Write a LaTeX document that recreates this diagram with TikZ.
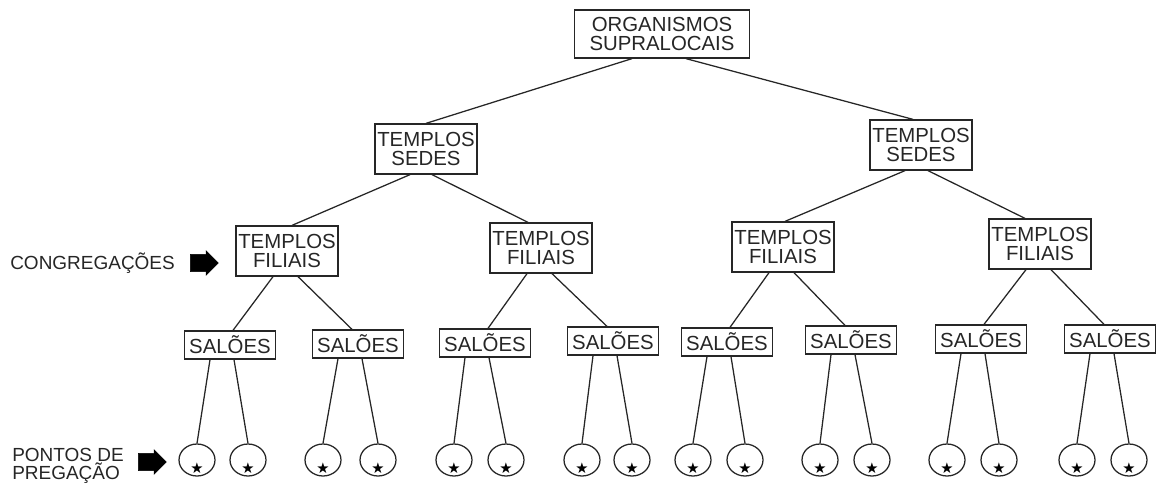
\documentclass[tikz,border=0pt]{standalone}
\usepackage{fontspec}
\setmainfont{Liberation Sans}
\newfontfamily\symfont{DejaVu Sans}
\usetikzlibrary{positioning, shapes.geometric, shapes.arrows}

\begin{document}
\begin{tikzpicture}[
		x=0.25mm, y=-0.25mm,
		every node/.style={text=black!85},
		tbox/.style={draw=black!85, line width=0.9pt, align=center, inner sep=0pt, font=\fontsize{14.5}{14}\selectfont},
		orgbox/.style={tbox, minimum width=43.75mm, minimum height=12mm},
		templo/.style={tbox, minimum width=25.5mm, minimum height=12.5mm},
		salao/.style={tbox, minimum width=22.75mm, minimum height=7mm},
		ponto/.style={draw=black!85, line width=0.9pt, ellipse, minimum width=9mm, minimum height=8mm, inner sep=0pt,
			path picture={\node[font=\symfont\fontsize{10.5}{10.5}\selectfont, inner sep=0pt, text=black] at ([yshift=-2.1mm]path picture bounding box.center) {★};}},
		sidelabel/.style={align=left, inner sep=0pt, font=\fontsize{13.5}{13}\selectfont},
		bigarrow/.style={single arrow, fill=black, draw=black, minimum height=7mm, inner sep=2.1mm, single arrow head extend=0.9mm},
		tline/.style={draw=black!85, line width=0.9pt},
	]
	\useasboundingbox (0,0) rectangle (1156,488);

	\node[orgbox] (org) at (662,34) {ORGANISMOS\\SUPRALOCAIS};

	\node[templo] (sl) at (426,149) {TEMPLOS\\SEDES};
	\node[templo] (sr) at (921,145) {TEMPLOS\\SEDES};

	\node[templo] (f1) at (287,251) {TEMPLOS\\FILIAIS};
	\node[templo] (f2) at (541,248) {TEMPLOS\\FILIAIS};
	\node[templo] (f3) at (783,247) {TEMPLOS\\FILIAIS};
	\node[templo] (f4) at (1040,244) {TEMPLOS\\FILIAIS};

	\node[salao] (s1) at (230,345) {SALÕES};
	\node[salao] (s2) at (358,344) {SALÕES};
	\node[salao] (s3) at (485,343) {SALÕES};
	\node[salao] (s4) at (613,341) {SALÕES};
	\node[salao] (s5) at (727,342) {SALÕES};
	\node[salao] (s6) at (851,340) {SALÕES};
	\node[salao] (s7) at (981,339) {SALÕES};
	\node[salao] (s8) at (1110,339) {SALÕES};

	% pontos de pregacao, two under each salao
	\foreach \i/\x in {1/197, 2/248, 3/323, 4/378, 5/454, 6/506, 7/582, 8/632,
			9/693, 10/745, 11/820, 12/872, 13/947, 14/999, 15/1077, 16/1129}
		\node[ponto] (p\i) at (\x,460) {};

	% side labels
	\node[sidelabel, anchor=west] (cong) at (10,263) {CONGREGAÇÕES};
	\node[bigarrow] (ca) at (200,263) {};
	\node[sidelabel, anchor=west] (pont) at (12,466) {PONTOS DE\\PREGAÇÃO};
	\node[bigarrow] (pa) at (148,462) {};

	% tree
	\draw[tline] ([xshift=-7.5mm]org.south) -- (sl.north);
	\draw[tline] ([xshift=6mm]org.south) -- ([xshift=-2mm]sr.north);
	\draw[tline] ([xshift=-4mm]sl.south) -- ([xshift=1.25mm]f1.north);
	\draw[tline] ([xshift=1.5mm]sl.south) -- ([xshift=-3.25mm]f2.north);
	\draw[tline] ([xshift=-4mm]sr.south) -- ([xshift=0.5mm]f3.north);
	\draw[tline] ([xshift=1.75mm]sr.south) -- ([xshift=-3.75mm]f4.north);
	\foreach \f/\a/\b in {f1/s1/s2, f2/s3/s4, f3/s5/s6, f4/s7/s8} {
		\draw[tline] ([xshift=-3.5mm]\f.south) -- ([xshift=0.75mm]\a.north);
		\draw[tline] ([xshift=2.75mm]\f.south) -- ([xshift=-1.5mm]\b.north);
	}
	\foreach \s/\l/\r in {s1/p1/p2, s2/p3/p4, s3/p5/p6, s4/p7/p8,
			s5/p9/p10, s6/p11/p12, s7/p13/p14, s8/p15/p16} {
		\draw[tline] ([xshift=-5mm]\s.south) -- (\l.north);
		\draw[tline] ([xshift=1mm]\s.south) -- (\r.north);
	}
\end{tikzpicture}
\end{document}
